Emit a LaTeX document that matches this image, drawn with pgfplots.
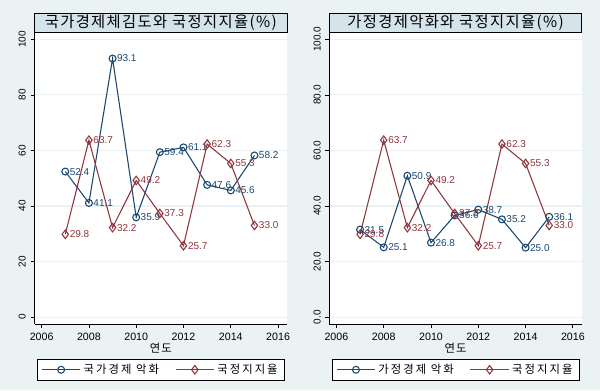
\documentclass[border=0pt]{standalone}
\usepackage{fontspec}
\setmainfont{Liberation Sans}
\newfontfamily\kr{Noto Sans CJK KR}
\newfontfamily\krt[LetterSpace=9]{Noto Sans CJK KR}
\newfontfamily\krl[LetterSpace=18]{Noto Sans CJK KR}
\newfontfamily\krx[LetterSpace=10]{Noto Sans CJK KR}
\usepackage{pgfplots}
\pgfplotsset{compat=1.18}
\definecolor{bg}{HTML}{EAF2F3}
\definecolor{titlebg}{HTML}{D5E3EA}
\definecolor{gridc}{HTML}{EAF2F3}
\definecolor{navy}{HTML}{1A476F}
\definecolor{maroon}{HTML}{90353B}
\pgfplotsset{
  stata/.style={
    width=189.4pt, height=218.25pt, scale only axis,
    xmin=2005.7, xmax=2016.38, ymin=-2.5, ymax=102.3,
    axis x line*=bottom, axis y line*=left,
    axis line style={black, line width=0.6pt, -},
    axis background/.style={fill=white},
    xtick={2006,2008,...,2016}, ytick={0,20,...,100},
    tick align=outside, major tick length=3pt,
    tick style={black, line width=0.6pt},
    ymajorgrids, grid style={gridc, line width=0.8pt},
    /pgf/number format/assume math mode=true,
    /pgf/number format/1000 sep={},
    xticklabel style={font=\fontsize{8}{9}\selectfont},
    yticklabel style={font=\fontsize{7.5}{9}\selectfont, rotate=90, anchor=south},
    xlabel={\krx 연도}, xlabel style={font=\fontsize{8.5}{9}\selectfont, yshift=5pt},
    every axis title shift=0pt,
    title style={at={(0.5,1)}, anchor=south, yshift=0pt, draw=black, line width=0.6pt, fill=titlebg,
      minimum width=189.4pt, minimum height=14.25pt, inner sep=0pt, font=\krt\fontsize{11.5}{12}\selectfont},
    legend style={at={(0.5,-0.1203)}, anchor=north, draw=black, line width=0.6pt, fill=white,
      font=\krl\fontsize{8.5}{9}\selectfont, legend columns=2, inner ysep=1.5pt,
      /tikz/every even column/.append style={column sep=10pt}},
    legend image code/.code={\draw[mark repeat=2,mark phase=2,#1] plot coordinates {(0pt,0pt) (14.5pt,0pt) (29pt,0pt)};},
    nodes near coords={\pgfmathprintnumber[fixed,fixed zerofill,precision=1]{\pgfplotspointmeta}},
    nodes near coords align=horizontal,
  },
  ser1/.style={navy, line width=0.8pt, mark=o, mark size=2.6pt, mark options={fill=white, solid},
    every node near coord/.append style={text=navy, font=\fontsize{7.5}{8}\selectfont, xshift=1pt, inner sep=2pt}},
  ser2/.style={maroon, line width=0.8pt, mark=diamond, mark size=3.2pt, mark options={fill=white, solid},
    every node near coord/.append style={text=maroon, font=\fontsize{7.5}{8}\selectfont, xshift=1pt, inner sep=2pt}},
}
\begin{document}
\begin{tikzpicture}
\useasboundingbox (0,0) rectangle (450pt,292.5pt);
\fill[bg] (0,0) rectangle (450pt,292.5pt);
\begin{axis}[stata, at={(25.9pt,49.5pt)}, anchor=south west,
  title={국가경제체김도와 국정지지율(\%)}]
\addplot[ser1] coordinates {(2007,52.4) (2008,41.1) (2009,93.1) (2010,35.9) (2011,59.4) (2012,61.1) (2013,47.6) (2014,45.6) (2015,58.2)};
\addlegendentry{국가경제 악화}
\addplot[ser2] coordinates {(2007,29.8) (2008,63.7) (2009,32.2) (2010,49.2) (2011,37.3) (2012,25.7) (2013,62.3) (2014,55.3) (2015,33.0)};
\addlegendentry{국정지지율}
\end{axis}
\begin{axis}[stata, at={(247pt,49.5pt)}, anchor=south west,
  yticklabel={\pgfmathprintnumber[fixed,fixed zerofill,precision=1]{\tick}},
  title={가정경제악화와 국정지지율(\%)}]
\addplot[ser1] coordinates {(2007,31.5) (2008,25.1) (2009,50.9) (2010,26.8) (2011,36.6) (2012,38.7) (2013,35.2) (2014,25.0) (2015,36.1)};
\addlegendentry{가정경제 악화}
\addplot[ser2] coordinates {(2007,29.8) (2008,63.7) (2009,32.2) (2010,49.2) (2011,37.3) (2012,25.7) (2013,62.3) (2014,55.3) (2015,33.0)};
\addlegendentry{국정지지율}
\end{axis}
\end{tikzpicture}
\end{document}
